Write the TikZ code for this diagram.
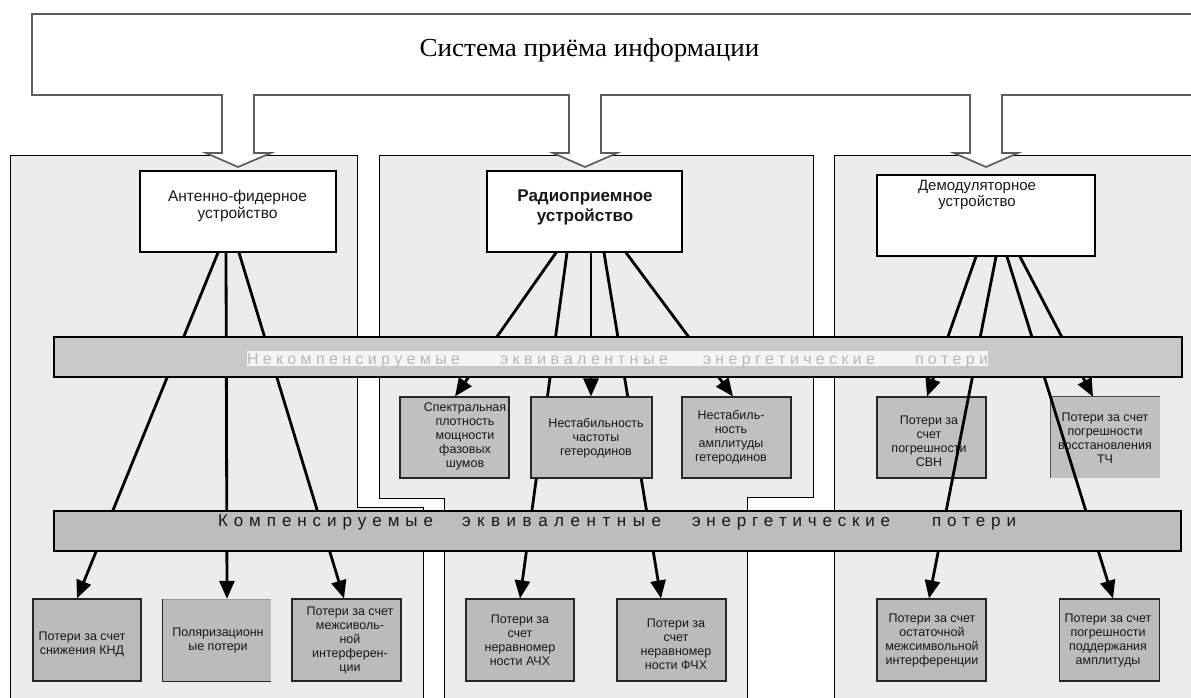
\documentclass[tikz,border=0pt]{standalone}
\usepackage{fontspec}
\setmainfont{Liberation Sans}
\newfontfamily\titlefont{Liberation Serif}
\usetikzlibrary{arrows.meta}

\definecolor{panelfill}{HTML}{ECECEC}
\definecolor{bandone}{HTML}{C9C9C9}
\definecolor{bandtwo}{HTML}{BDBDBD}
\definecolor{boxgray}{HTML}{C0C0C0}
\definecolor{lowgray}{HTML}{BBBBBB}
\definecolor{framegray}{HTML}{5C5C5C}
\definecolor{ghosttext}{HTML}{B8B8B8}
\definecolor{stripfill}{HTML}{F4F4F4}

% spread the letters of a word evenly over a given width
\makeatletter
\newcommand\spreadword[2]{\makebox[#1][s]{\spread@aux#2\relax}}
\def\spread@aux#1#2{#1\ifx#2\relax\else\hfill\expandafter\spread@aux\expandafter#2\fi}
\makeatother

\pgfdeclarelayer{backdrop}
\pgfdeclarelayer{panels}
\pgfdeclarelayer{under}
\pgfdeclarelayer{lines}
\pgfdeclarelayer{bands}
\pgfsetlayers{backdrop,panels,under,lines,bands,main}

\begin{document}
\begin{tikzpicture}[x=1pt,y=-1pt,
  panel/.style={fill=panelfill, draw=black, line width=0.9pt},
  topframe/.style={fill=white, draw=framegray, line width=1.7pt},
  whitebox/.style={draw=black, fill=white, line width=1.4pt, inner sep=0pt},
  graybox/.style={draw=black!85, fill=boxgray, line width=1.1pt, inner sep=0pt},
  lowbox/.style={graybox, fill=lowgray, minimum width=109, minimum height=82},
  bandbar/.style={draw=black, line width=1.1pt, inner sep=0pt, minimum height=40},
  lbl/.style={inner sep=0pt, align=center, text=black!90, font=\fontsize{12.5}{14}\selectfont},
  ghostword/.style={anchor=base, inner sep=0pt, text=ghosttext, font=\fontsize{16}{18}\selectfont},
  darkword/.style={anchor=base, inner sep=0pt, text=black!90, font=\fontsize{17}{19}\selectfont},
  conn/.style={line width=2.8pt, -{Triangle[length=18pt,width=15pt]}}
]
\path[use as bounding box] (0,0) rectangle (1191,698);
\clip (0,0) rectangle (1191,698);
\begin{pgfonlayer}{backdrop}
\fill[white] (0,0) rectangle (1191,698);
\end{pgfonlayer}

% three shaded areas for the subsystems
\begin{pgfonlayer}{panels}
\draw[panel] (10,155) -- (357,155) -- (357,507) -- (423,507) -- (423,720) -- (10,720) -- cycle;
\draw[panel] (379,155) -- (813,155) -- (813,497) -- (747,497) -- (747,720) -- (444,720) -- (444,498) -- (379,498) -- cycle;
\draw[panel] (834,155) -- (1220,155) -- (1220,720) -- (834,720) -- cycle;
\end{pgfonlayer}

% demodulator losses that the connectors cross over
\begin{pgfonlayer}{under}
\node[graybox, minimum width=109, minimum height=81] (M4) at (931.5,437.5) {};
\node[lbl] (M4t) at (929,441) {Потери за\\счет\\погрешности\\СВН};
\node[fill=boxgray, inner sep=0pt, minimum width=109, minimum height=81] (M5) at (1105.5,437.5) {};
\draw[black!70, line width=0.8pt] (M5.south west) -- (M5.north west) -- (M5.north east);
\node[lbl] (M5t) at (1105,438) {Потери за счет\\погрешности\\восстановления\\ТЧ};
\end{pgfonlayer}

% the two loss bands
\begin{pgfonlayer}{bands}
\node[bandbar, fill=bandone, minimum width=1128] (NC) at (618,357) {};
\fill[stripfill] (247,351) rectangle (988,366);
\node[ghostword] (nc1) at (353.5,364) {\spreadword{213pt}{Некомпенсируемые}};
\node[ghostword] (nc2) at (584,364) {\spreadword{168pt}{эквивалентные}};
\node[ghostword] (nc3) at (789,364) {\spreadword{172pt}{энергетические}};
\node[ghostword] (nc4) at (951.5,364) {\spreadword{73pt}{потери}};
\node[bandbar, fill=bandtwo, minimum width=1127] (CO) at (617.5,531) {};
\node[darkword] (co1) at (325.5,526) {\spreadword{215pt}{Компенсируемые}};
\node[darkword] (co2) at (561.5,526) {\spreadword{199pt}{эквивалентные}};
\node[darkword] (co3) at (791,526) {\spreadword{198pt}{энергетические}};
\node[darkword] (co4) at (974,526) {\spreadword{84pt}{потери}};
\end{pgfonlayer}

% receiver losses
\node[graybox, minimum width=109, minimum height=81] (M1) at (454.5,437.5) {};
\node[lbl] (M1t) at (465,436.5) {Спектральная\\плотность\\мощности\\фазовых\\шумов};
\node[graybox, minimum width=121, minimum height=81] (M2) at (591.5,437.5) {};
\node[lbl] (M2t) at (596,438) {Нестабильность\\частоты\\гетеродинов};
\node[graybox, minimum width=109, minimum height=81] (M3) at (736.5,437.5) {};
\node[lbl] (M3t) at (731,437.5) {Нестабиль-\\ность\\амплитуды\\гетеродинов};

% bottom row
\node[lowbox, minimum width=108] (B1) at (87,640) {};
\node[lbl] (B1t) at (82,644.5) {Потери за счет\\снижения КНД};
\node[fill=lowgray, inner sep=0pt, minimum width=108, minimum height=82] (B2) at (217,640) {};
\draw[black!85, line width=1.1pt] (B2.north west) -- (B2.south west) -- (B2.south east);
\draw[black!40, line width=0.6pt] (B2.north west) -- (B2.north east);
\node[lbl] (B2t) at (218,640.5) {Поляризационн\\ые потери};
\node[lowbox] (B3) at (346.5,640) {};
\node[lbl] (B3t) at (350,640) {Потери за счет\\межсиволь-\\ной\\интерферен-\\ции};
\node[lowbox, minimum width=108] (B4) at (520,640) {};
\node[lbl] (B4t) at (520,640) {Потери за\\счет\\неравномер\\ности АЧХ};
\node[lowbox] (B5) at (671.5,640) {};
\node[lbl] (B5t) at (676,644.5) {Потери за\\счет\\неравномер\\ности ФЧХ};
\node[lowbox] (B6) at (931.5,640) {};
\node[lbl] (B6t) at (932,640) {Потери за счет\\остаточной\\межсимвольной\\интерференции};
\node[lowbox, minimum width=100] (B7) at (1109.5,640) {};
\node[lbl] (B7t) at (1108,640) {Потери за счет\\погрешности\\поддержания\\амплитуды};

% the three devices
\node[whitebox, minimum width=196, minimum height=81] (A) at (238,211.5) {};
\node[lbl, font=\fontsize{15.5}{17}\selectfont] (At) at (237.5,205.5) {Антенно-фидерное\\устройство};
\node[whitebox, minimum width=195, minimum height=81] (B) at (584.5,211.5) {};
\node[lbl, font=\bfseries\fontsize{17}{20}\selectfont] (Bt) at (585,207) {Радиоприемное\\устройство};
\node[whitebox, minimum width=218, minimum height=81] (C) at (986,215.5) {};
\node[lbl, font=\fontsize{15}{16.5}\selectfont] (Ct) at (977,195) {Демодуляторное\\устройство};

% connectors from the devices to the losses
\begin{pgfonlayer}{lines}
\draw[conn] ([xshift=-20]A.south) -- ([xshift=-10]B1.north);
\draw[conn] ([xshift=-12]A.south) -- ([xshift=10]B2.north);
\draw[conn] ([xshift=1]A.south) -- ([xshift=-2.5]B3.north);
\draw[conn] ([xshift=-28.5]B.south) -- ([xshift=0.5]M1.north);
\draw[conn] ([xshift=-17.5]B.south) -- (B4.north);
\draw[conn] ([xshift=6.5]B.south) -- ([xshift=-0.5]M2.north);
\draw[conn] ([xshift=19.5]B.south) -- ([xshift=-10.5]B5.north);
\draw[conn] ([xshift=41.5]B.south) -- ([xshift=-3.5]M3.north);
\draw[conn] ([xshift=-10]C.south) -- ([xshift=-4.5]M4.north);
\draw[conn] ([xshift=10]C.south) -- ([xshift=-2.5]B6.north);
\draw[conn] ([xshift=21]C.south) -- ([xshift=3.5]B7.north);
\draw[conn] ([xshift=34]C.south) -- ([xshift=-12.5]M5.north);
\end{pgfonlayer}

% system frame with its three hollow arrows
\draw[topframe] (32,14) -- (1220,14) -- (1220,95) -- (1002,95) -- (1002,153) -- (1018,153)
  -- (986,167) -- (954,153) -- (970,153) -- (970,95) -- (601,95) -- (601,153) -- (617,153)
  -- (585,167) -- (553,153) -- (569,153) -- (569,95) -- (254,95) -- (254,153) -- (271,153)
  -- (238,167) -- (206,153) -- (222,153) -- (222,95) -- (32,95) -- cycle;
\node[anchor=base, inner sep=0pt, font=\titlefont\fontsize{26}{30}\selectfont] (title) at (589.5,57) {\scalebox{1.04}[1]{Система приёма информации}};
\end{tikzpicture}
\end{document}
